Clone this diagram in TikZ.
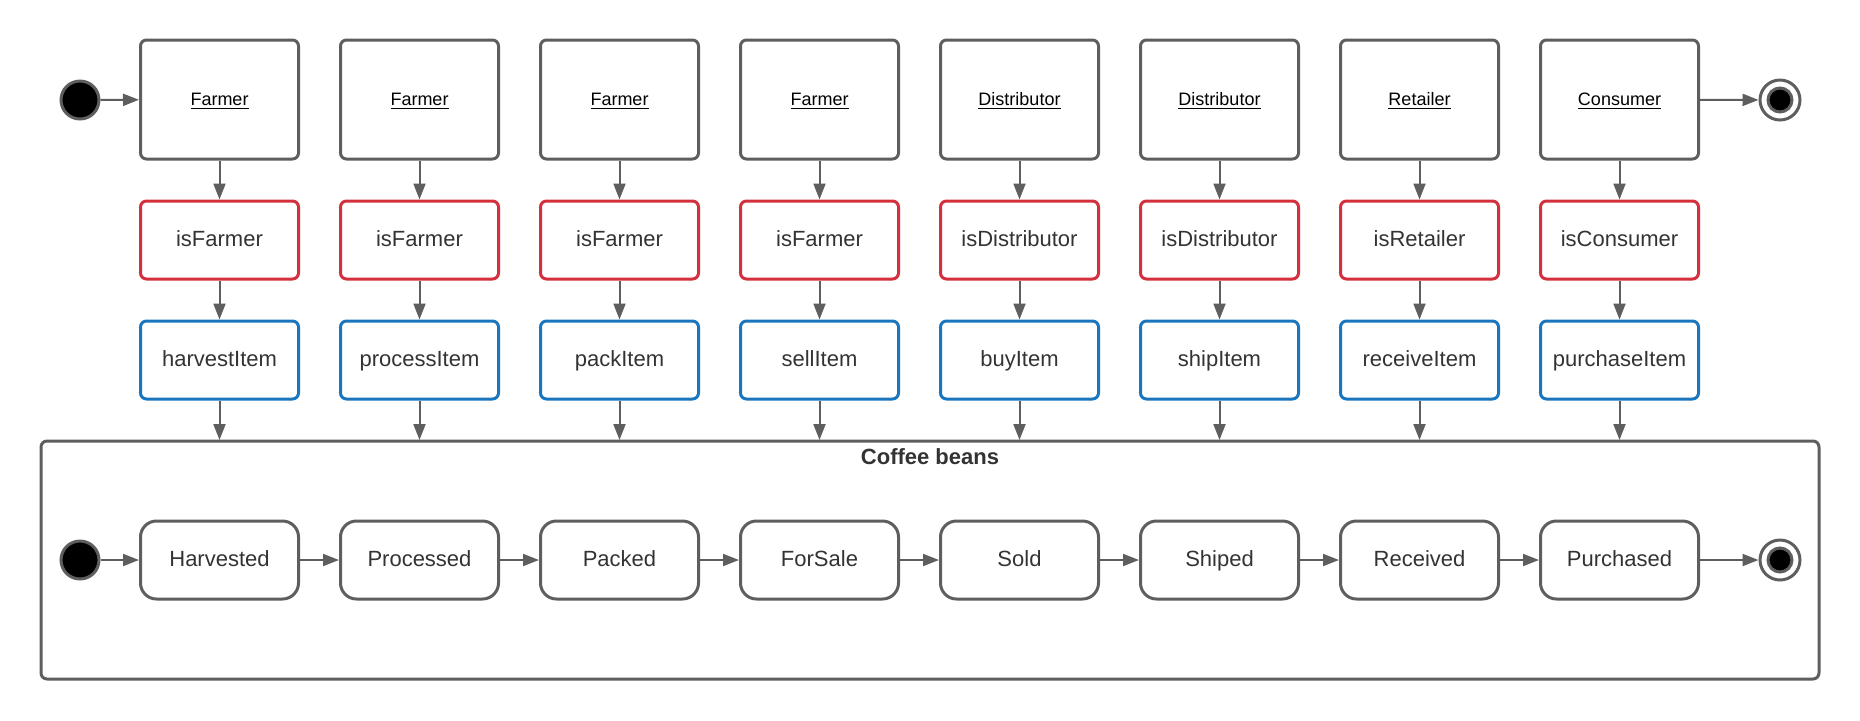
\documentclass[tikz,border=0pt]{standalone}
\usepackage{fontspec}
\setmainfont{Liberation Sans}
\usetikzlibrary{arrows.meta,positioning}
\definecolor{lgray}{HTML}{5E5E5E}
\definecolor{lred}{HTML}{D42F3B}
\definecolor{lblue}{HTML}{1976BE}
\definecolor{ltext}{HTML}{333333}
\tikzset{
  boxbase/.style={line width=1.5pt, rounded corners=3pt, minimum width=79pt, minimum height=39pt, inner sep=0pt, text height=0.72em, text depth=0.12em, font=\fontsize{11}{13}\selectfont, text=ltext},
  actorbox/.style={boxbase, draw=lgray, minimum height=59.5pt, font=\fontsize{9}{11}\selectfont, text=black},
  guardbox/.style={boxbase, draw=lred},
  funcbox/.style={boxbase, draw=lblue},
  statebox/.style={boxbase, draw=lgray, rounded corners=8pt},
  startdot/.style={circle, fill=black, draw=lgray, line width=1.5pt, minimum size=19pt, inner sep=0pt},
  enddotout/.style={circle, fill=white, draw=lgray, line width=1.5pt, minimum size=20pt, inner sep=0pt},
  enddotin/.style={circle, fill=black, draw=lgray, line width=1.5pt, minimum size=12pt, inner sep=0pt},
  conn/.style={draw=lgray, line width=1pt, -{Triangle[length=8pt,width=6pt]}},
}
\begin{document}
\begin{tikzpicture}[x=0.5pt,y=-0.5pt]
\useasboundingbox (0,0) rectangle (1860,720);
% container
\node[draw=lgray, line width=1.5pt, rounded corners=3pt, minimum width=889pt, minimum height=119pt, inner sep=0pt] (cont) at (930,560) {};
\node[font=\bfseries\fontsize{11}{13}\selectfont, text=ltext, text height=0.72em, text depth=0.1em, inner sep=0pt] (title) at (930,458) {Coffee beans};
% top start/end
\node[startdot] (s1) at (80,100) {};
\node[enddotout] (e1) at (1780,100) {};
\node[enddotin] (e1i) at (1780,100) {};
\node[startdot] (s2) at (80,560) {};
\node[enddotout] (e2) at (1780,560) {};
\node[enddotin] (e2i) at (1780,560) {};
% columns
\foreach \i/\act/\grd/\fn/\st in {
  1/Farmer/isFarmer/harvestItem/Harvested,
  2/Farmer/isFarmer/processItem/Processed,
  3/Farmer/isFarmer/packItem/Packed,
  4/Farmer/isFarmer/sellItem/ForSale,
  5/Distributor/isDistributor/buyItem/Sold,
  6/Distributor/isDistributor/shipItem/Shiped,
  7/Retailer/isRetailer/receiveItem/Received,
  8/Consumer/isConsumer/purchaseItem/Purchased}{
  \pgfmathsetmacro{\cx}{219.5+200*(\i-1)}
  \node[actorbox] (a\i) at (\cx,99.5) {\underline{\act}};
  \node[guardbox] (g\i) at (\cx,240) {\grd};
  \node[funcbox] (f\i) at (\cx,360) {\fn};
  \node[statebox] (st\i) at (\cx,560) {\st};
  \coordinate (c\i) at (\cx,440);
  \draw[conn] (a\i) -- (g\i);
  \draw[conn] (g\i) -- (f\i);
  \draw[conn] (f\i.south) -- (c\i);
}
\draw[conn] (s1) -- (a1);
\draw[conn] (a8) -- (e1);
\draw[conn] (s2) -- (st1);
\foreach \i [evaluate=\i as \j using int(\i+1)] in {1,...,7}{
  \draw[conn] (st\i) -- (st\j);
}
\draw[conn] (st8) -- (e2);
\end{tikzpicture}
\end{document}
